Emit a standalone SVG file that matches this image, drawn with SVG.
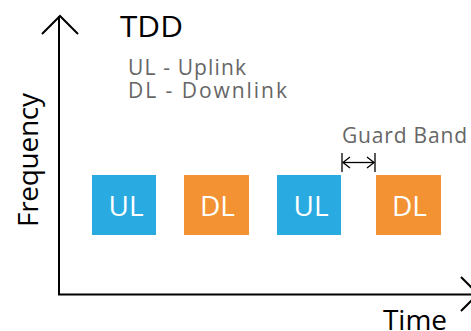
<svg xmlns="http://www.w3.org/2000/svg" width="471" height="331" viewBox="0 0 471 331">
<style>
.axis{stroke:#000;stroke-width:2;fill:none}
.ul rect{fill:#29ABE2}
.dl rect{fill:#F39233}
.lbl{font-family:"Open Sans","Noto Sans",sans-serif;fill:#fff;font-size:28px;text-anchor:middle}
.t{font-family:"Open Sans","Noto Sans",sans-serif}
</style>
<rect width="471" height="331" fill="#fff"/>
<g id="connectors">
<path class="axis" d="M59 16 V294.5 H478"/>
<path class="axis" d="M42 34 L60 16 L78 34"/>
<path class="axis" d="M461 277 L478 294 L461 311"/>
<g id="guard-arrow" stroke="#000" stroke-width="1.3" fill="none">
<line x1="342" y1="153" x2="342" y2="172"/>
<line x1="375" y1="153" x2="375" y2="172"/>
<line x1="343" y1="162.5" x2="374" y2="162.5"/>
<path d="M350 157 L343 162.5 L350 168 M367 157 L374 162.5 L367 168"/>
</g>
</g>
<g id="ul1" class="ul"><rect x="92" y="175" width="64" height="60"/><text class="lbl" x="126" y="216">UL</text></g>
<g id="dl1" class="dl"><rect x="184" y="175" width="65" height="60"/><text class="lbl" x="217.5" y="216">DL</text></g>
<g id="ul2" class="ul"><rect x="277" y="175" width="64" height="60"/><text class="lbl" x="311" y="216">UL</text></g>
<g id="dl2" class="dl"><rect x="376" y="175" width="65" height="60"/><text class="lbl" x="409.5" y="216">DL</text></g>
<g id="titles">
<text class="t" x="120" y="37" font-size="29" fill="#000" textLength="63" lengthAdjust="spacingAndGlyphs">TDD</text>
<text class="t" x="128" y="75" font-size="21" fill="#666" textLength="118">UL - Uplink</text>
<text class="t" x="128" y="98" font-size="21" fill="#666" textLength="159">DL - Downlink</text>
<text class="t" x="342" y="143" font-size="21" fill="#666" textLength="125">Guard Band</text>
<text class="t" transform="translate(38 160) rotate(-90)" text-anchor="middle" font-size="28" fill="#000" textLength="134">Frequency</text>
<text class="t" x="383" y="330" font-size="28" fill="#000" textLength="64">Time</text>
</g>
</svg>
